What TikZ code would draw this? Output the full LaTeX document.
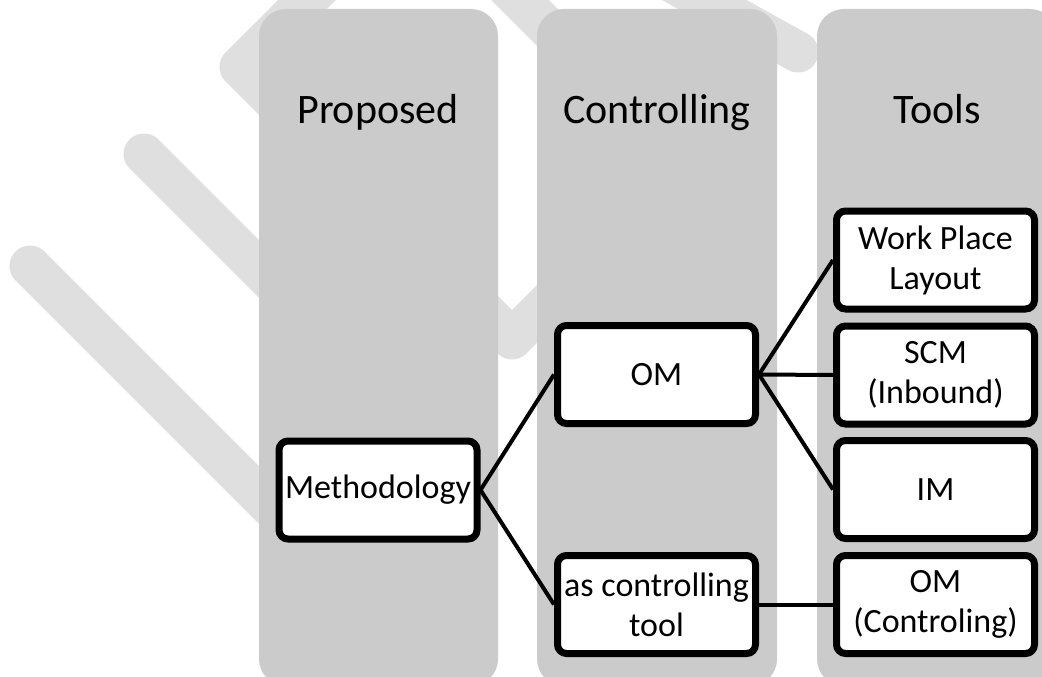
\documentclass[tikz,border=0pt]{standalone}
\usepackage{fontspec}
\setmainfont{Carlito}
\usetikzlibrary{shadows}
\definecolor{colgray}{HTML}{CBCBCB}
\definecolor{wmgray}{HTML}{DFDFDF}
\tikzset{
  wmband/.style={draw=wmgray, line width=41pt, line cap=round, line join=round},
  column/.style={fill=colgray, draw=none, rounded corners=27pt},
  coltitle/.style={anchor=base, font=\fontsize{42}{50}\selectfont, text=black},
  itembox/.style={draw=black, fill=white, line width=7pt, rounded corners=9pt,
    minimum width=198pt, minimum height=98pt, inner sep=2pt, align=center,
    font=\fontsize{34}{40}\selectfont,
    drop shadow={shadow xshift=2pt, shadow yshift=-3pt, opacity=0.35, fill=black}},
  link/.style={draw=black, line width=4pt}
}
\begin{document}
\begin{tikzpicture}[x=1pt, y=-1pt]
\useasboundingbox (0,0) rectangle (1042,677);
\fill[white] (0,0) rectangle (1042,677);
% watermark
\draw[wmband] (30,266) -- (340,576);
\draw[wmband] (144,154) -- (340,350);
\draw[wmband] (320,-13) -- (240,67) -- (512,339) -- (620,231);
\draw[wmband] (480,-40) -- (580,60);
\draw[wmband] (650,-30) -- (798,52);
% columns
\path[column] (259,9) rectangle (498,686);
\path[column] (537,9) rectangle (777,686);
\path[column] (817,9) rectangle (1057,686);
\node[coltitle] (t1) at (378,123) {Proposed};
\node[coltitle] (t2) at (657,123) {Controlling};
\node[coltitle] (t3) at (937,123) {Tools};
% boxes
\node[itembox] (meth) at (378,490) {Methodology};
\node[itembox] (om) at (656.5,374.5) {OM};
\node[itembox] (act) at (656.5,604.5) {as controlling\\tool};
\node[itembox] (wpl) at (935.5,260) {Work Place\\Layout};
\node[itembox] (scm) at (935.5,375) {SCM\\(Inbound)};
\node[itembox] (im) at (935.5,489.5) {IM};
\node[itembox] (omc) at (935.5,604.5) {OM\\(Controling)};
% connectors
\draw[link] (meth.east) -- (om.west);
\draw[link] (meth.east) -- (act.west);
\draw[link] (om.east) -- (wpl.west);
\draw[link] (om.east) -- (scm.west);
\draw[link] (om.east) -- (im.west);
\draw[link] (act.east) -- (omc.west);
\end{tikzpicture}
\end{document}
